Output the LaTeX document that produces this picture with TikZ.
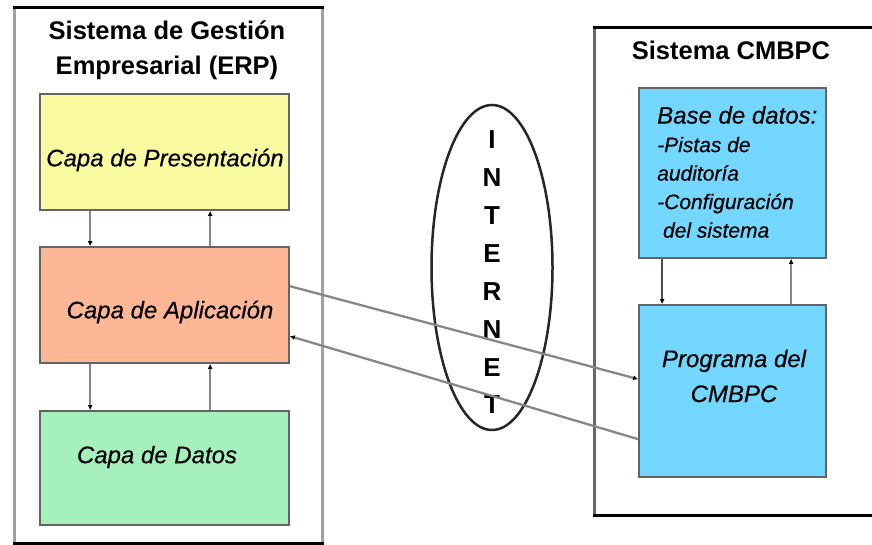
\documentclass[tikz,border=0pt]{standalone}
\usepackage{fontspec}
\setmainfont{Liberation Sans}
\newfontfamily\layerfont{Liberation Sans}[FakeBold=0.4]
\usetikzlibrary{arrows.meta,shapes.geometric}

\definecolor{presyellow}{RGB}{250,250,160}
\definecolor{appsalmon}{RGB}{253,182,150}
\definecolor{datagreen}{RGB}{166,240,190}
\definecolor{cmbpcblue}{RGB}{115,215,255}
\definecolor{boxedge}{RGB}{100,100,100}
\definecolor{linkgray}{RGB}{135,135,135}
\definecolor{sidegray}{RGB}{160,160,160}

\begin{document}
\begin{tikzpicture}[x=1pt,y=-1pt,
  layer/.style={draw=boxedge, line width=1.7pt, inner sep=0pt},
  frameside/.style={draw=sidegray, line width=3.2pt},
  frameedge/.style={draw=black, line width=2.8pt},
  title/.style={font=\bfseries\fontsize{25.5}{35}\selectfont, align=center},
  layertext/.style={font=\layerfont\itshape\fontsize{24}{35}\selectfont, align=center},
  link/.style={draw=linkgray, line width=2.3pt, -{Latex[length=5pt,width=5pt,color=black]}},
  thinlink/.style={draw=black!70, line width=1.5pt, -{Latex[length=5pt,width=5pt,color=black]}}
]
\useasboundingbox[fill=white] (0,0) rectangle (872,545);

% ---------- ERP frame ----------
\node[minimum width=307pt, minimum height=535pt, inner sep=0pt] (erp) at (168.5,275.5) {};
\draw[frameside] (erp.north west) -- (erp.south west);
\draw[frameside] (erp.north east) -- (erp.south east);
\draw[frameedge] ([xshift=-1.6pt]erp.north west) -- ([xshift=1.6pt]erp.north east);
\draw[frameedge] ([xshift=-1.6pt]erp.south west) -- ([xshift=1.6pt]erp.south east);
\node[title] (erptitle) at (167,50.5) {Sistema de Gestión\\Empresarial (ERP)};

% ---------- CMBPC frame ----------
\node[minimum width=290pt, minimum height=487pt, inner sep=0pt] (cmbpc) at (740,271.5) {};
\draw[draw=black!60, line width=2.8pt] (cmbpc.north west) -- (cmbpc.south west);
\draw[frameedge] ([xshift=-1.4pt]cmbpc.north west) -- (cmbpc.north east);
\draw[frameedge] ([xshift=-1.4pt]cmbpc.south west) -- (cmbpc.south east);
\node[title] (cmbpctitle) at (731,50) {Sistema CMBPC};

% ---------- ERP layers ----------
\node[layer, fill=presyellow, minimum width=249pt, minimum height=116pt] (pres) at (164.5,152) {};
\node[layer, fill=appsalmon, minimum width=249pt, minimum height=116pt] (app) at (164.5,305) {};
\node[layer, fill=datagreen, minimum width=249pt, minimum height=114pt] (data) at (164.5,468) {};
\node[layertext] (prestext) at (165,160) {Capa de Presentación};
\node[layertext] (apptext) at (170,312) {Capa de Aplicación};
\node[layertext] (datatext) at (157,457) {Capa de Datos};

\draw[link] ([xshift=51pt]pres.south west) -- ([xshift=51pt]app.north west);
\draw[link] ([xshift=171pt]app.north west) -- ([xshift=171pt]pres.south west);
\draw[link] ([xshift=51pt]app.south west) -- ([xshift=51pt]data.north west);
\draw[link] ([xshift=171pt]data.north west) -- ([xshift=171pt]app.south west);

% ---------- CMBPC blocks ----------
\node[layer, fill=cmbpcblue, minimum width=187pt, minimum height=170pt] (db) at (732.5,173) {};
\node[layer, fill=cmbpcblue, minimum width=187pt, minimum height=172pt] (prog) at (732.5,391) {};
\node[font=\layerfont\itshape\fontsize{21}{28.5}\selectfont, align=left, anchor=north west, inner sep=0pt]
  (dbtext) at (657,106) {{\fontsize{24}{28.5}\selectfont Base de datos:}\\-Pistas de\\auditoría\\-Configuración\\\ del sistema};
\node[layertext] (progtext) at (734,376) {Programa del\\CMBPC};

\draw[thinlink] ([xshift=24pt]db.south west) -- ([xshift=24pt]prog.north west);
\draw[link] ([xshift=153pt]prog.north west) -- ([xshift=153pt]db.south west);

% ---------- Internet cloud ----------
\node[ellipse, draw=black!85, line width=2.5pt, minimum width=121pt, minimum height=325pt, inner sep=0pt] (inet) at (492,267.5) {};
\node[font=\bfseries\fontsize{26}{37.86}\selectfont, align=center] (inettext) at (492,272.5) {I\\N\\T\\E\\R\\N\\E\\T};

% ---------- links across the internet ----------
\draw[link] ([yshift=-40pt]app.north east) -- ([yshift=-75pt]prog.north west);
\draw[link] ([yshift=-135pt]prog.north west) -- ([yshift=-90pt]app.north east);
\end{tikzpicture}
\end{document}
